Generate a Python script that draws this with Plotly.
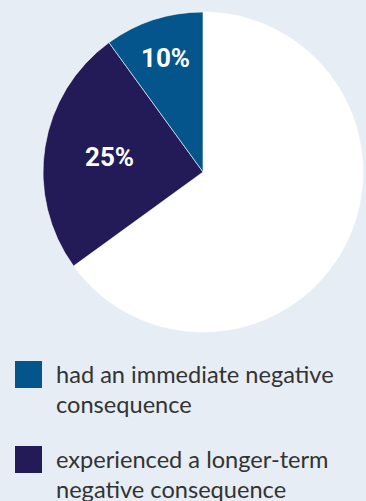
import plotly.graph_objects as go
import math

W, H = 366, 501

# data (in order counter-clockwise from 12 o'clock)
labels = ["had an immediate negative consequence",
          "experienced a longer-term negative consequence",
          "other"]
values = [10, 25, 65]
text_labels = ["10%", "25%", ""]
colors = ["#03558b", "#231b57", "#ffffff"]
legend_lines = [["had an immediate negative", "consequence"],
                ["experienced a longer-term", "negative consequence"]]

bg = "#e6edf4"

cx, cy, r = 203, 172, 160

fig = go.Figure()
# drawn clockwise with reversed order == counter-clockwise in data order
fig.add_trace(go.Pie(
    labels=labels[::-1], values=values[::-1], sort=False, direction="clockwise",
    rotation=0, marker=dict(colors=colors[::-1], line=dict(color="#ffffff", width=0.6)),
    textinfo="none", hoverinfo="skip", showlegend=False,
    domain=dict(x=[(cx - r) / W, (cx + r) / W], y=[1 - (cy + r) / H, 1 - (cy - r) / H]),
))

# slice labels, placed from cumulative angles of the data
label_radius = [0.75, 0.59]
cum = 0
total = sum(values)
for i, v in enumerate(values):
    mid = (cum + v / 2) / total * 2 * math.pi
    cum += v
    if not text_labels[i]:
        continue
    rr = label_radius[i] * r
    px = cx - rr * math.sin(mid)
    py = cy - rr * math.cos(mid)
    fig.add_annotation(x=px / W, y=1 - py / H, xref="paper", yref="paper",
                       text="<b>" + text_labels[i] + "</b>", showarrow=False,
                       font=dict(family="Roboto", size=26, color="#ffffff"),
                       xanchor="center", yanchor="middle")

# legend
item_top = [361, 446]
for i, lines in enumerate(legend_lines):
    t = item_top[i]
    fig.add_shape(type="rect", xref="paper", yref="paper",
                  x0=15 / W, x1=42 / W, y0=1 - (t + 27) / H, y1=1 - t / H,
                  fillcolor=colors[i], line=dict(width=0))
    for j, ln in enumerate(lines):
        yc = t + 13 + j * 30
        fig.add_annotation(x=56 / W, y=1 - yc / H, xref="paper", yref="paper",
                           text=ln, showarrow=False, xanchor="left", yanchor="middle",
                           xshift=-2,
                           font=dict(family="Lato", size=23.6, color="#333333"))

fig.update_layout(width=W, height=H, margin=dict(l=0, r=0, t=0, b=0),
                  paper_bgcolor=bg, plot_bgcolor=bg, showlegend=False)

fig.write_html("out.html", config={"displayModeBar": False},
               post_script="document.body.style.margin='0';document.body.style.overflow='hidden';document.body.style.background='" + bg + "';")
